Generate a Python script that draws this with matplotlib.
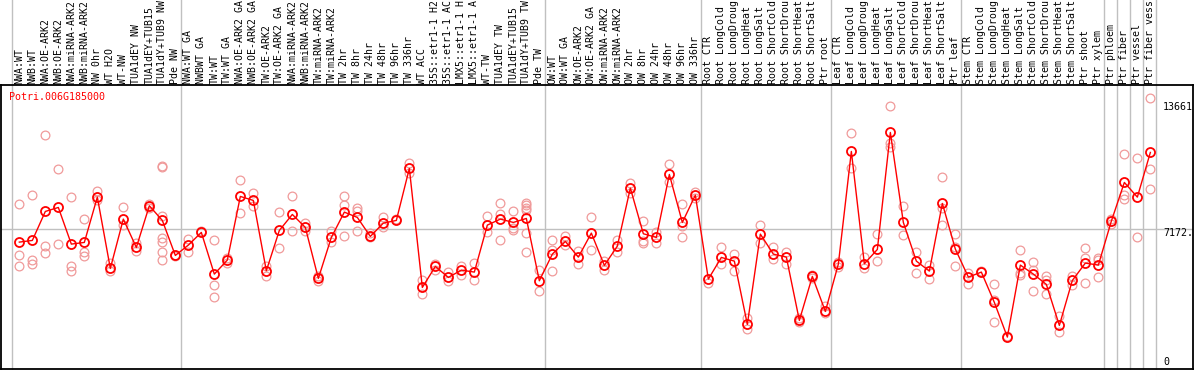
import numpy as np
import matplotlib.pyplot as plt
import matplotlib.transforms as mtransforms

gene = 'Potri.006G185000'

# sample names as they show in the header (long ones are cut at the top)
samples = [
    'NWA:WT', 'NWB:WT', 'NWA:OE-ARK2', 'NWB:OE-ARK2', 'NWA:miRNA-ARK2', 'NWB:miRNA-ARK2',
    'NW 0hr', 'WT H2O', 'WT-NW', 'TUA1dEY NW', 'TUA1dEY+TUB15', 'TUA1dY+TUB9 NW', 'Pde NW',
    'NWA:WT GA', 'NWBWT GA', 'TW:WT', 'TW:WT GA', 'NWA:OE-ARK2 GA', 'NWB:OE-ARK2 GA',
    'TW:OE-ARK2', 'TW:OE-ARK2 GA', 'NWA:miRNA-ARK2', 'NWB:miRNA-ARK2', 'TW:miRNA-ARK2',
    'TW:miRNA-ARK2', 'TW 2hr', 'TW 8hr', 'TW 24hr', 'TW 48hr', 'TW 96hr', 'TW 336hr',
    'WT ACC', '35S::etr1-1 H2', '35S::etr1-1 AC', 'LMX5::etr1-1 H', 'LMX5::etr1-1 A',
    'WT-TW', 'TUA1dEY TW', 'TUA1dEY+TUB15', 'TUA1dY+TUB9 TW', 'Pde TW',
    'OW:WT', 'OW:WT GA', 'OW:OE-ARK2', 'OW:OE-ARK2 GA', 'OW:miRNA-ARK2', 'OW:miRNA-ARK2',
    'OW 2hr', 'OW 8hr', 'OW 24hr', 'OW 48hr', 'OW 96hr', 'OW 336hr',
    'Root CTR', 'Root LongCold', 'Root LongDroug', 'Root LongHeat', 'Root LongSalt',
    'Root ShortCold', 'Root ShortDrou', 'Root ShortHeat', 'Root ShortSalt', 'Ptr root',
    'Leaf CTR', 'Leaf LongCold', 'Leaf LongDroug', 'Leaf LongHeat', 'Leaf LongSalt',
    'Leaf ShortCold', 'Leaf ShortDrou', 'Leaf ShortHeat', 'Leaf ShortSalt', 'Ptr leaf',
    'Stem CTR', 'Stem LongCold', 'Stem LongDroug', 'Stem LongHeat', 'Stem LongSalt',
    'Stem ShortCold', 'Stem ShortDrou', 'Stem ShortHeat', 'Stem ShortSalt', 'Ptr shoot',
    'Ptr xylem', 'Ptr phloem', 'Ptr fiber', 'Ptr vessel', 'Ptr fiber vess',
]

# index of the first sample of each group
group_starts = [0, 13, 41, 53, 63, 73, 84, 85, 86, 87, 88]

means = [
    6468, 6555, 8055, 8262, 6365, 6451, 8797, 5106, 7659, 6192, 8349, 7590, 5778,
    6313, 6969, 4812, 5537, 8832, 8625, 4985, 7072, 7900, 7227, 4588, 6710, 8021,
    7745, 6762, 7452, 7590, 10281, 4122, 5209, 4640, 5019, 4916, 7348, 7659, 7486,
    7693, 4467,
    5847, 6503, 5692, 6934, 5261, 6261, 9263, 6900, 6710, 9970, 7486, 8901,
    4554, 5675, 5485, 2208, 6882, 5847, 5692, 2415, 4692, 2880,
    5330, 11160, 5347, 6089, 12144, 7486, 5485, 4968, 8469, 6106,
    4657, 4916, 3346, 1552, 5278, 4812, 4278, 2156, 4485, 5382, 5278,
    7555, 9556, 8797, 11109,
]

replicates = [
    [8435, 5778, 5209], [8884, 5554, 5330], [11989, 6244, 5899], [10229, 6365],
    [8780, 5209, 4950], [7659, 5934, 5727], [9125, 8659], [5382, 4950],
    [8262, 7366], [6417, 5986], [8435, 8228],
    [10419, 10380, 7797, 6676, 6468, 5951, 5554], [5813, 5727],
    [6641, 5951], [7020], [6555, 4226, 3605], [5641, 5382], [9660, 7952],
    [8987, 8314], [5209, 4692], [8004, 6158], [8849, 7020], [7452, 7055],
    [4692, 4468], [7020, 6468], [8849, 8401, 6762], [8228, 8090, 7020],
    [6934, 6710], [7762, 7227], [7659], [10557, 10039], [4485, 3795],
    [5330, 5037], [4916, 4468], [5209, 4744], [5382, 4485], [7797, 6986],
    [8470, 7918, 6555], [8055, 7193, 7107],
    [8487, 8366, 8245, 8125, 6917, 5951], [5002, 3916],
    [6555, 6072, 4968], [6762, 6331], [6020, 5347], [7745, 6072], [5503, 5019],
    [6555, 5951], [9522, 9004], [7538, 6538, 6417], [6986, 6417], [10505, 9556],
    [8435, 7279, 6710], [9056, 8746],
    [4347], [6193, 5347], [5848, 4985], [2536, 1983], [7348, 6417], [6193, 5606],
    [5934, 5330], [2536, 2311], [4778, 4606], [3139, 2794],
    [5434, 5157], [12092, 10298], [5675, 5123], [6883, 5468], [13489, 11592, 11368],
    [8314, 6848], [5951, 4864], [5295, 4571], [9815, 8228, 7366], [6883, 6227, 5209],
    [4864, 4295], [4985], [4295, 3484, 2311], [1587], [6072, 4864, 4744],
    [5434, 5037, 3916], [4692, 4519, 3778], [2622, 1794], [4726, 4260],
    [6158, 5641, 4330], [5641, 5537, 4640],
    [7676, 7400], [11005, 8918, 8711], [10798, 6710], [13903, 10229, 9194],
]

tick_values = [0, 7172, 13661]
tick_labels = ['0', '7172.', '13661']

fig = plt.figure(figsize=(11.94, 3.70), dpi=100)
ax = fig.add_axes([1 / 1194, 1 / 370, 1192 / 1194, 284 / 370])
ax.set_xlim(-1.41, 90.28)
ax.set_ylim(-100, 14600)
ax.set_xticks([])
ax.set_yticks([])
for s in ax.spines.values():
    s.set_linewidth(1.3)
    s.set_color('black')

mono = 'DejaVu Sans Mono'
x = np.arange(len(samples))

# group separators, running up through the label area
for g in group_starts:
    ax.plot([g - 0.6, g - 0.6], [0, 1.31], color='#c0c0c0', lw=1,
            transform=ax.get_xaxis_transform(), clip_on=False, zorder=1)
ax.axhline(tick_values[1], color='#c0c0c0', lw=1, zorder=1)

# replicates
for i, reps in enumerate(replicates):
    ax.plot([i] * len(reps), reps, 'o', ms=6.3, mfc='none', mec='#f09a9a',
            mew=0.9, zorder=2)

# mean line
ax.plot(x, means, '-', color='red', lw=1, zorder=3)
ax.plot(x, means, 'o', ms=6.5, mfc='none', mec='red', mew=1.3, zorder=4)

# sample labels
for i, name in enumerate(samples):
    ax.text(i, 1.004, name, rotation=90, ha='center', va='bottom',
            fontsize=7.1, family=mono, transform=ax.get_xaxis_transform(),
            clip_on=False)

ax.text(0.0067, 0.958, gene, color='red', fontsize=7.2, family=mono,
        ha='left', va='center', transform=ax.transAxes)

# value labels on the right, just under their level
yt = mtransforms.blended_transform_factory(ax.transAxes, ax.transData)
for v, lab in zip(tick_values, tick_labels):
    yy = max(v - 210, 260)
    ax.text(0.9748, yy, lab, fontsize=7.2, family=mono, ha='left',
            va='center', transform=yt, clip_on=True)

fig.savefig('out.png', dpi=100)
